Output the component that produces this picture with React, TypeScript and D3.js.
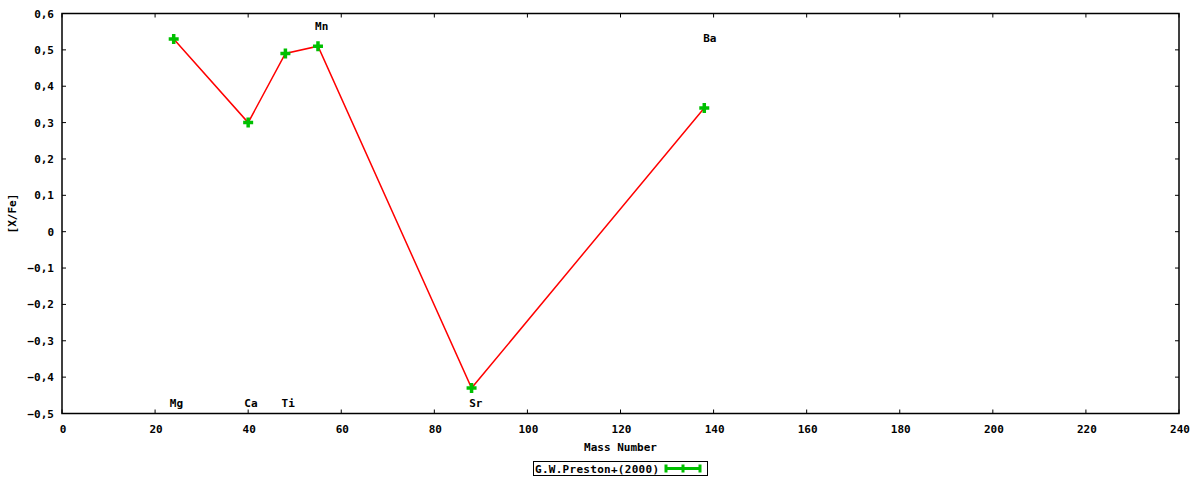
import { useEffect, useRef } from 'react';
import * as d3 from 'd3';

const elements = ['Mg', 'Ca', 'Ti', 'Mn', 'Sr', 'Ba'];
const massNumbers = [24, 40, 48, 55, 88, 138];
const abundances = [0.53, 0.3, 0.49, 0.51, -0.43, 0.34];
// label anchor positions (data units)
const labelX = [24.6, 40.6, 48.6, 55.8, 88.9, 139.2];
const labelY = [-0.47, -0.47, -0.47, 0.565, -0.47, 0.532];

const xTicks = [0, 20, 40, 60, 80, 100, 120, 140, 160, 180, 200, 220, 240];
const yTicks = [-0.5, -0.4, -0.3, -0.2, -0.1, 0, 0.1, 0.2, 0.3, 0.4, 0.5, 0.6];
const seriesName = 'G.W.Preston+(2000)';

const FONT = '"DejaVu Sans Mono", monospace';
const GREEN = '#00c000';

export default function App() {
  const svgRef = useRef<SVGSVGElement>(null);

  useEffect(() => {
    if (!svgRef.current) return;
    const svg = d3.select(svgRef.current);
    svg.selectAll('*').remove();

    const left = 62;
    const right = 1179;
    const top = 13.5;
    const bottom = 413.5;

    const x = d3.scaleLinear().domain([0, 240]).range([left, right]);
    const y = d3.scaleLinear().domain([-0.5, 0.6]).range([bottom, top]);

    const txt = (sel: any) =>
      sel
        .attr('font-family', FONT)
        .attr('font-weight', 'bold')
        .attr('font-size', '11px')
        .attr('fill', '#000');

    // frame
    svg
      .append('rect')
      .attr('x', left)
      .attr('y', top)
      .attr('width', right - left)
      .attr('height', bottom - top)
      .attr('fill', 'none')
      .attr('stroke', '#000')
      .attr('stroke-width', 1.5);

    // x ticks (bottom and mirrored top)
    const tl = 4;
    xTicks.forEach((t) => {
      svg.append('line').attr('x1', x(t)).attr('x2', x(t)).attr('y1', bottom).attr('y2', bottom - tl).attr('stroke', '#000');
      svg.append('line').attr('x1', x(t)).attr('x2', x(t)).attr('y1', top).attr('y2', top + tl).attr('stroke', '#000');
      svg
        .append('text')
        .call(txt)
        .attr('x', x(t) + 1)
        .attr('y', bottom + 19)
        .attr('text-anchor', 'middle')
        .text(t);
    });

    yTicks.forEach((t) => {
      svg.append('line').attr('x1', left).attr('x2', left + tl).attr('y1', y(t)).attr('y2', y(t)).attr('stroke', '#000');
      svg.append('line').attr('x1', right).attr('x2', right - tl).attr('y1', y(t)).attr('y2', y(t)).attr('stroke', '#000');
      svg
        .append('text')
        .call(txt)
        .attr('x', left - 8)
        .attr('y', y(t) + 4)
        .attr('text-anchor', 'end')
        .text(t === 0 ? '0' : d3.format('.1f')(t).replace('.', ','));
    });

    // axis titles
    svg
      .append('text')
      .call(txt)
      .attr('x', (left + right) / 2)
      .attr('y', 451)
      .attr('text-anchor', 'middle')
      .text('Mass Number');

    svg
      .append('text')
      .call(txt)
      .attr('transform', `translate(16,${(top + bottom) / 2}) rotate(-90)`)
      .attr('text-anchor', 'middle')
      .text('[X/Fe]');

    // data line
    const pts = massNumbers.map((m, i) => [m, abundances[i]] as [number, number]);
    const line = d3
      .line<[number, number]>()
      .x((d) => x(d[0]))
      .y((d) => y(d[1]));
    svg
      .append('path')
      .attr('d', line(pts))
      .attr('fill', 'none')
      .attr('stroke', '#ff0000')
      .attr('stroke-width', 1.5);

    // points
    const s = 5;
    pts.forEach((d) => {
      const cx = x(d[0]);
      const cy = y(d[1]);
      svg
        .append('path')
        .attr('d', `M${cx - s},${cy}H${cx + s}M${cx},${cy - s}V${cy + s}`)
        .attr('stroke', GREEN)
        .attr('stroke-width', 3.5)
        .attr('fill', 'none');
    });

    // element labels
    elements.forEach((el, i) => {
      svg
        .append('text')
        .call(txt)
        .attr('x', x(labelX[i]))
        .attr('y', y(labelY[i]) + 4)
        .attr('text-anchor', 'middle')
        .text(el);
    });

    // legend
    const lx = 533;
    const ly = 461;
    svg
      .append('rect')
      .attr('x', lx + 0.5)
      .attr('y', ly + 0.5)
      .attr('width', 174)
      .attr('height', 14)
      .attr('fill', '#fff')
      .attr('stroke', '#000');
    svg
      .append('text')
      .call(txt)
      .attr('x', lx + 2)
      .attr('y', ly + 11.5)
      .attr('textLength', 124)
      .text(seriesName);
    const sx1 = 666;
    const sx2 = 700;
    const sy = ly + 7.5;
    svg
      .append('path')
      .attr(
        'd',
        `M${sx1},${sy}H${sx2}M${sx1},${sy - 4}V${sy + 4}M${sx2},${sy - 4}V${sy + 4}M${(sx1 + sx2) / 2 - 4},${sy}H${(sx1 + sx2) / 2 + 4}M${(sx1 + sx2) / 2},${sy - 4}V${sy + 4}`
      )
      .attr('stroke', GREEN)
      .attr('stroke-width', 3)
      .attr('fill', 'none');
  }, []);

  return (
    <div style={{ position: 'absolute', left: 0, top: 0, background: '#fff' }}>
      <svg ref={svgRef} width={1200} height={480} style={{ display: 'block' }} />
    </div>
  );
}
